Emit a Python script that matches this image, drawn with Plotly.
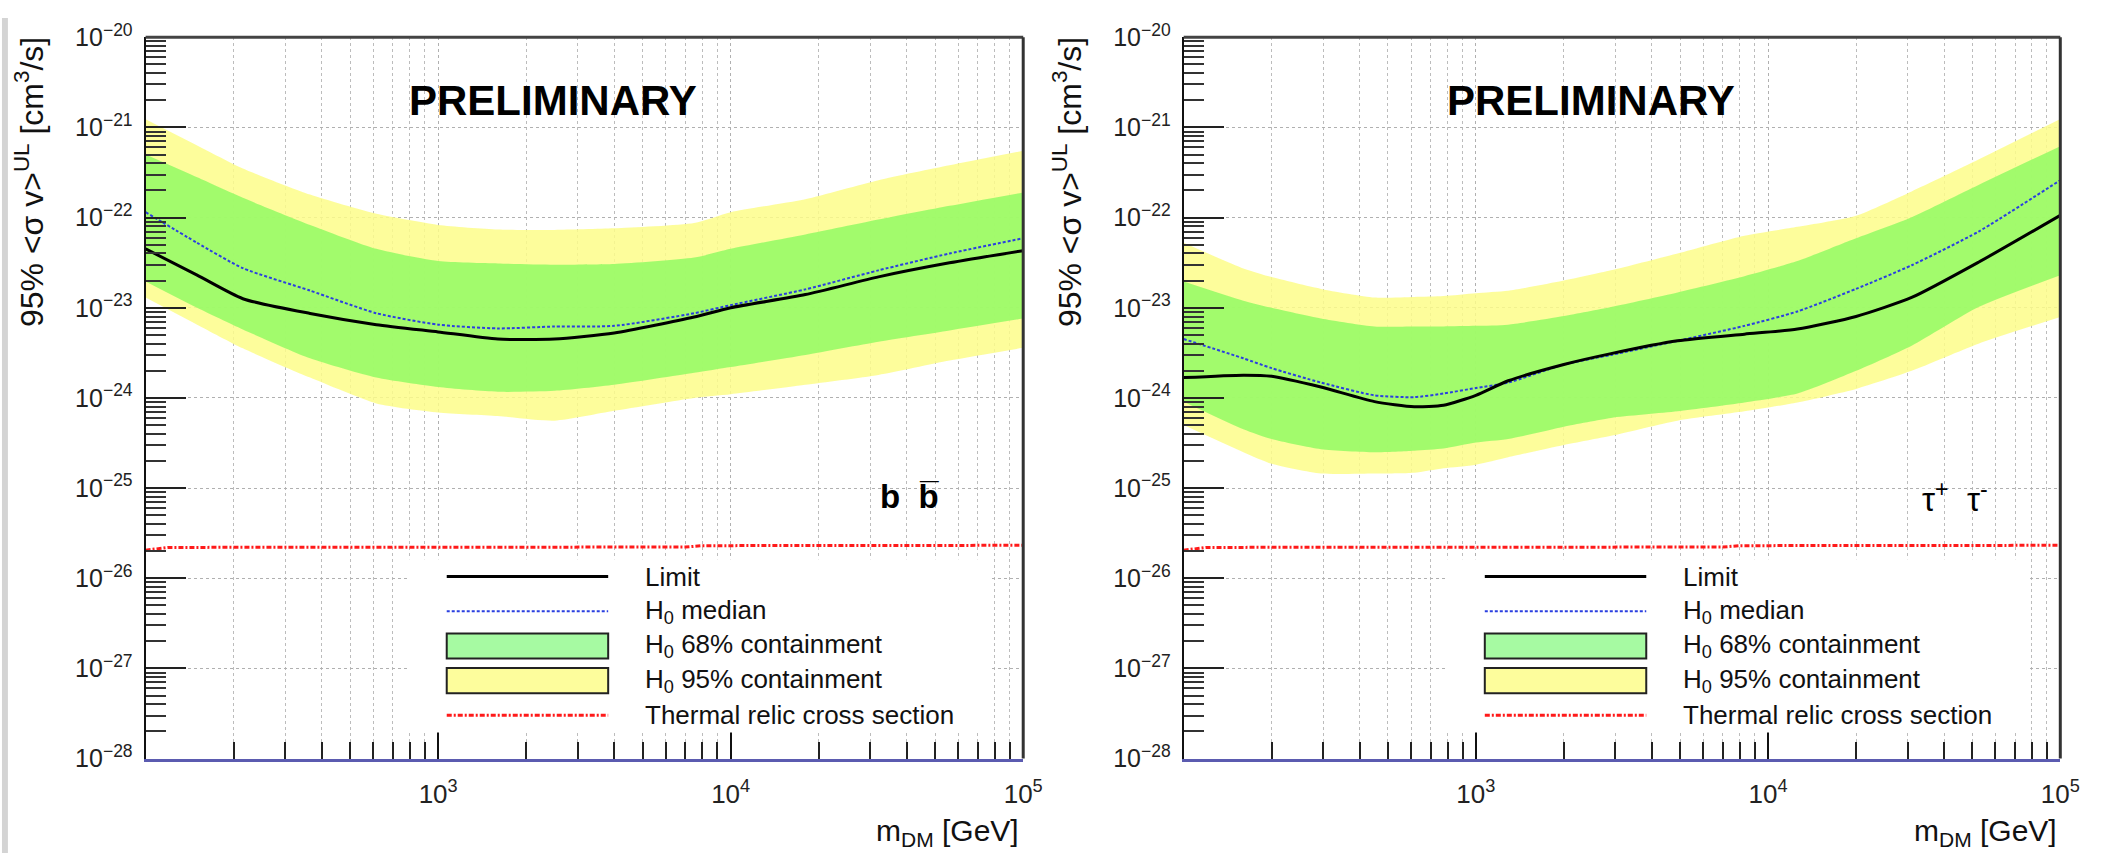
import plotly.graph_objects as go

W, H = 2111, 867

# ---------------- data: left panel (b b-bar) ----------------
bb_mass = [100, 150, 215, 365, 615, 1000, 1600, 2500, 4000, 7500, 10000, 18000, 32000, 56000, 100000]
bb_limit = [4.5e-23, 2.3e-23, 1.26e-23, 8.65e-24, 6.5e-24, 5.4e-24, 4.5e-24, 4.5e-24, 5.25e-24, 7.9e-24,
            1.0e-23, 1.4e-23, 2.2e-23, 3.15e-23, 4.3e-23]
bb_median = [1.15e-22, 5.25e-23, 2.75e-23, 1.55e-23, 8.7e-24, 6.5e-24, 5.9e-24, 6.2e-24, 6.3e-24, 8.7e-24,
             1.07e-23, 1.6e-23, 2.6e-23, 4.0e-23, 5.9e-23]
bb_68_hi = [5.0e-22, 2.8e-22, 1.66e-22, 8.3e-23, 4.5e-23, 3.3e-23, 3.1e-23, 3.0e-23, 3.05e-23, 3.6e-23,
            4.5e-23, 6.5e-23, 9.5e-23, 1.35e-22, 1.9e-22]
bb_68_lo = [1.96e-23, 1.0e-23, 5.75e-24, 2.75e-24, 1.68e-24, 1.32e-24, 1.17e-24, 1.2e-24, 1.4e-24, 1.9e-24,
            2.2e-24, 3.0e-24, 4.2e-24, 5.6e-24, 7.6e-24]
bb_95_hi = [1.23e-21, 6.3e-22, 3.5e-22, 1.8e-22, 1.1e-22, 8.3e-23, 7.4e-23, 7.3e-23, 7.6e-23, 8.7e-23,
            1.15e-22, 1.6e-22, 2.6e-22, 3.8e-22, 5.5e-22]
bb_95_lo = [1.3e-23, 6.5e-24, 3.55e-24, 1.68e-24, 8.7e-25, 6.9e-25, 6.3e-25, 5.6e-25, 7.2e-25, 1.0e-24,
            1.1e-24, 1.4e-24, 1.8e-24, 2.6e-24, 3.6e-24]

# ---------------- data: right panel (tau+ tau-) ----------------
tt_mass = [100, 160, 200, 295, 450, 615, 775, 1000, 1290, 2000, 2900, 4900, 8300, 12600, 20000, 31000, 52500, 100000]
tt_limit = [1.68e-24, 1.79e-24, 1.74e-24, 1.32e-24, 9.1e-25, 8.0e-25, 8.3e-25, 1.07e-24, 1.55e-24, 2.35e-24,
            3.1e-24, 4.3e-24, 5.1e-24, 5.8e-24, 8.0e-24, 1.3e-23, 3.2e-23, 1.06e-22]
tt_median = [4.5e-24, 2.75e-24, 2.14e-24, 1.48e-24, 1.07e-24, 1.02e-24, 1.12e-24, 1.29e-24, 1.48e-24, 2.35e-24,
             3.0e-24, 4.3e-24, 6.3e-24, 9.1e-24, 1.62e-23, 2.96e-23, 7.0e-23, 2.6e-22]
tt_68_hi = [1.96e-23, 1.2e-23, 1.0e-23, 7.6e-24, 6.2e-24, 6.2e-24, 6.2e-24, 6.3e-24, 6.5e-24, 8.1e-24,
            1.02e-23, 1.48e-23, 2.24e-23, 3.3e-23, 5.9e-23, 1.01e-22, 2.3e-22, 6.2e-22]
tt_68_lo = [9.1e-25, 4.5e-25, 3.5e-25, 2.7e-25, 2.5e-25, 2.6e-25, 2.75e-25, 3.2e-25, 3.5e-25, 4.8e-25,
            6.0e-25, 7.1e-25, 8.9e-25, 1.12e-24, 2.0e-24, 3.8e-24, 1.02e-23, 2.3e-23]
tt_95_hi = [5.25e-23, 2.73e-23, 2.19e-23, 1.62e-23, 1.3e-23, 1.32e-23, 1.35e-23, 1.45e-23, 1.54e-23, 2.0e-23,
            2.6e-23, 4.0e-23, 6.3e-23, 7.9e-23, 1.05e-22, 1.95e-22, 4.4e-22, 1.24e-21]
tt_95_lo = [5.0e-25, 2.5e-25, 1.86e-25, 1.45e-25, 1.45e-25, 1.48e-25, 1.66e-25, 1.82e-25, 2.2e-25, 3.0e-25,
            3.8e-25, 5.6e-25, 7.1e-25, 8.9e-25, 1.26e-24, 2.0e-24, 4.0e-24, 7.9e-24]

# thermal relic cross section
relic_mass = [100, 120, 7000, 8000, 100000]
relic_xsec = [2.05e-26, 2.2e-26, 2.22e-26, 2.3e-26, 2.32e-26]

# ---------------- axis ticks / labels ----------------
y_tickvals = [1e-28, 1e-27, 1e-26, 1e-25, 1e-24, 1e-23, 1e-22, 1e-21, 1e-20]
y_ticktext = ["10<sup>\u221228</sup>", "10<sup>\u221227</sup>", "10<sup>\u221226</sup>", "10<sup>\u221225</sup>",
              "10<sup>\u221224</sup>", "10<sup>\u221223</sup>", "10<sup>\u221222</sup>", "10<sup>\u221221</sup>",
              "10<sup>\u221220</sup>"]
y_minor = [k * 10.0 ** e for e in range(-28, -20) for k in range(2, 10)]
x_tickvals = [1e3, 1e4, 1e5]
x_ticktext = ["10<sup>3</sup>", "10<sup>4</sup>", "10<sup>5</sup>"]
x_minor = [k * 10.0 ** e for e in range(2, 5) for k in range(2, 10)]

legend_labels = ["Limit", "H<sub>0</sub> median", "H<sub>0</sub> 68% containment",
                 "H<sub>0</sub> 95% containment", "Thermal relic cross section"]
channel_labels = ["<b>b  b\u0305</b>", "\u03c4<sup>+</sup>  \u03c4<sup>-</sup>"]

FONT = "Liberation Sans"
YELLOW_BAND = "rgba(253,253,138,0.85)"
GREEN_BAND = "rgba(146,250,100,0.85)"
YELLOW = "#fdfd9c"
LEG_GREEN = "#a6faa2"
RED = "#ff1a1a"
BLUE = "#2a3fe0"
RED_DASH = "5px,2px,2px,2px"
BLUE_DASH = "3px,2px"

fig = go.Figure()

panels = [
    dict(xa="x", ya="y", m=bb_mass, lim=bb_limit, med=bb_median,
         g_hi=bb_68_hi, g_lo=bb_68_lo, y_hi=bb_95_hi, y_lo=bb_95_lo),
    dict(xa="x2", ya="y2", m=tt_mass, lim=tt_limit, med=tt_median,
         g_hi=tt_68_hi, g_lo=tt_68_lo, y_hi=tt_95_hi, y_lo=tt_95_lo),
]

sm = dict(shape="spline", smoothing=0.6)
for p in panels:
    common = dict(xaxis=p["xa"], yaxis=p["ya"], showlegend=False, hoverinfo="skip")
    fig.add_trace(go.Scatter(x=p["m"], y=p["y_hi"], mode="lines", line=dict(width=0, **sm), **common))
    fig.add_trace(go.Scatter(x=p["m"], y=p["y_lo"], mode="lines", line=dict(width=0, **sm),
                             fill="tonexty", fillcolor=YELLOW_BAND, **common))
    fig.add_trace(go.Scatter(x=p["m"], y=p["g_hi"], mode="lines", line=dict(width=0, **sm), **common))
    fig.add_trace(go.Scatter(x=p["m"], y=p["g_lo"], mode="lines", line=dict(width=0, **sm),
                             fill="tonexty", fillcolor=GREEN_BAND, **common))
    fig.add_trace(go.Scatter(x=relic_mass, y=relic_xsec, mode="lines",
                             line=dict(color=RED, width=3, dash=RED_DASH), **common))
    fig.add_trace(go.Scatter(x=p["m"], y=p["med"], mode="lines",
                             line=dict(color=BLUE, width=2, dash=BLUE_DASH, **sm), **common))
    fig.add_trace(go.Scatter(x=p["m"], y=p["lim"], mode="lines",
                             line=dict(color="black", width=3, **sm), **common))

ydom = [1 - 769 / H, 1 - 20 / H]
xdoms = [[147 / W, 1033 / W], [1195 / W, 2080 / W]]


def xaxis_cfg(dom, anchor):
    return dict(type="log", range=[2, 5], domain=dom, anchor=anchor,
                tickmode="array", tickvals=x_tickvals, ticktext=x_ticktext,
                ticks="inside", ticklen=28, tickwidth=2, tickcolor="#111",
                showline=True, linecolor="#5b5bb0", linewidth=3,
                showgrid=True, gridcolor="#b0b0b0", griddash="dot", gridwidth=1,
                minor=dict(tickvals=x_minor, ticks="inside", ticklen=17, tickwidth=2, tickcolor="#222",
                           showgrid=True, gridcolor="#bcbcbc", griddash="dot", gridwidth=1),
                tickfont=dict(family=FONT, size=26, color="#222"), ticklabelstandoff=10,
                zeroline=False, layer="above traces", fixedrange=True)


def yaxis_cfg(anchor):
    return dict(type="log", range=[-28, -20], domain=ydom, anchor=anchor,
                tickmode="array", tickvals=y_tickvals, ticktext=y_ticktext,
                ticks="inside", ticklen=40, tickwidth=2, tickcolor="#222",
                showline=True, linecolor="#111", linewidth=2,
                showgrid=True, gridcolor="#b0b0b0", griddash="dot", gridwidth=1,
                minor=dict(tickvals=y_minor, ticks="inside", ticklen=20, tickwidth=2, tickcolor="#333",
                           showgrid=False),
                tickfont=dict(family=FONT, size=25, color="#222"), ticklabelstandoff=6,
                zeroline=False, layer="above traces", fixedrange=True)


fig.update_layout(
    width=W, height=H, autosize=False,
    margin=dict(l=0, r=0, t=0, b=0),
    paper_bgcolor="white", plot_bgcolor="white",
    xaxis=xaxis_cfg(xdoms[0], "y"), yaxis=yaxis_cfg("x"),
    xaxis2=xaxis_cfg(xdoms[1], "y2"), yaxis2=yaxis_cfg("x2"),
    showlegend=False,
)


def px(v):
    return v / W


def py(v):
    return 1 - v / H


annos = []
shapes = []
PANEL_OFFSET = 1048
LEG_X0, LEG_X1 = 412, 1000           # legend box (pixels, left panel)
LEG_Y0, LEG_Y1 = 562, 742
SAMPLE_X0, SAMPLE_X1 = 451, 614       # legend sample extent
TEXT_X = 649
ROW_Y0, ROW_DY = 580, 36
BOX_H = 26

for i, (xa, ya) in enumerate([("x", "y"), ("x2", "y2")]):
    off = PANEL_OFFSET * i
    annos.append(dict(text="<b>PRELIMINARY</b>", x=px(558 + off), y=py(86), xref="paper", yref="paper",
                      showarrow=False, font=dict(family=FONT, size=42, color="black"),
                      xanchor="center", yanchor="middle"))
    annos.append(dict(text="95% <\u03c3 v><sup>UL</sup> [cm<sup>3</sup>/s]", x=px(30 + off), y=py(18),
                      xref="paper", yref="paper", showarrow=False, textangle=-90,
                      font=dict(family=FONT, size=32, color="#111"), xanchor="center", yanchor="top"))
    annos.append(dict(text="m<sub>DM</sub> [GeV]", x=px(1031 + off), y=py(846), xref="paper", yref="paper",
                      showarrow=False, font=dict(family=FONT, size=30, color="#111"),
                      xanchor="right", yanchor="middle"))
    annos.append(dict(text=channel_labels[i], x=px(918 + off + (8 if i else 0)), y=py(497),
                      xref="paper", yref="paper", showarrow=False,
                      font=dict(family=FONT, size=33, color="black"), xanchor="center", yanchor="middle"))
    # top and right frame lines of each panel
    shapes.append(dict(type="line", xref=f"{xa} domain", yref=f"{ya} domain", x0=0, x1=1, y0=1, y1=1,
                       line=dict(color="#444", width=3), layer="above"))
    shapes.append(dict(type="line", xref=f"{xa} domain", yref=f"{ya} domain", x0=1, x1=1, y0=0, y1=1,
                       line=dict(color="#333", width=3), layer="above"))

    # ---- legend (white box, samples, labels) ----
    shapes.append(dict(type="rect", xref="paper", yref="paper", x0=px(LEG_X0 + off), x1=px(LEG_X1 + off),
                       y0=py(LEG_Y1), y1=py(LEG_Y0), fillcolor="white", line=dict(width=0), layer="above"))
    rows = [ROW_Y0 + k * ROW_DY for k in range(len(legend_labels))]
    sx0, sx1 = px(SAMPLE_X0 + off), px(SAMPLE_X1 + off)
    shapes.append(dict(type="line", xref="paper", yref="paper", x0=sx0, x1=sx1, y0=py(rows[0]), y1=py(rows[0]),
                       line=dict(color="black", width=3), layer="above"))
    shapes.append(dict(type="line", xref="paper", yref="paper", x0=sx0, x1=sx1, y0=py(rows[1]), y1=py(rows[1]),
                       line=dict(color=BLUE, width=2, dash=BLUE_DASH), layer="above"))
    for k, col in ((2, LEG_GREEN), (3, YELLOW)):
        shapes.append(dict(type="rect", xref="paper", yref="paper", x0=sx0, x1=sx1,
                           y0=py(rows[k] + BOX_H / 2), y1=py(rows[k] - BOX_H / 2),
                           fillcolor=col, line=dict(color="#222", width=2), layer="above"))
    shapes.append(dict(type="line", xref="paper", yref="paper", x0=sx0, x1=sx1, y0=py(rows[4]), y1=py(rows[4]),
                       line=dict(color=RED, width=3, dash=RED_DASH), layer="above"))
    for k, lab in enumerate(legend_labels):
        annos.append(dict(text=lab, x=px(TEXT_X + off), y=py(rows[k]), xref="paper", yref="paper",
                          showarrow=False, font=dict(family=FONT, size=26, color="#111"),
                          xanchor="left", yanchor="middle"))

shapes.append(dict(type="rect", xref="paper", yref="paper", x0=px(2), x1=px(8), y0=0, y1=1,
                   fillcolor="#d4d4d4", line=dict(width=0), layer="below"))

fig.update_layout(annotations=annos, shapes=shapes)

fig.write_html("out.html")
